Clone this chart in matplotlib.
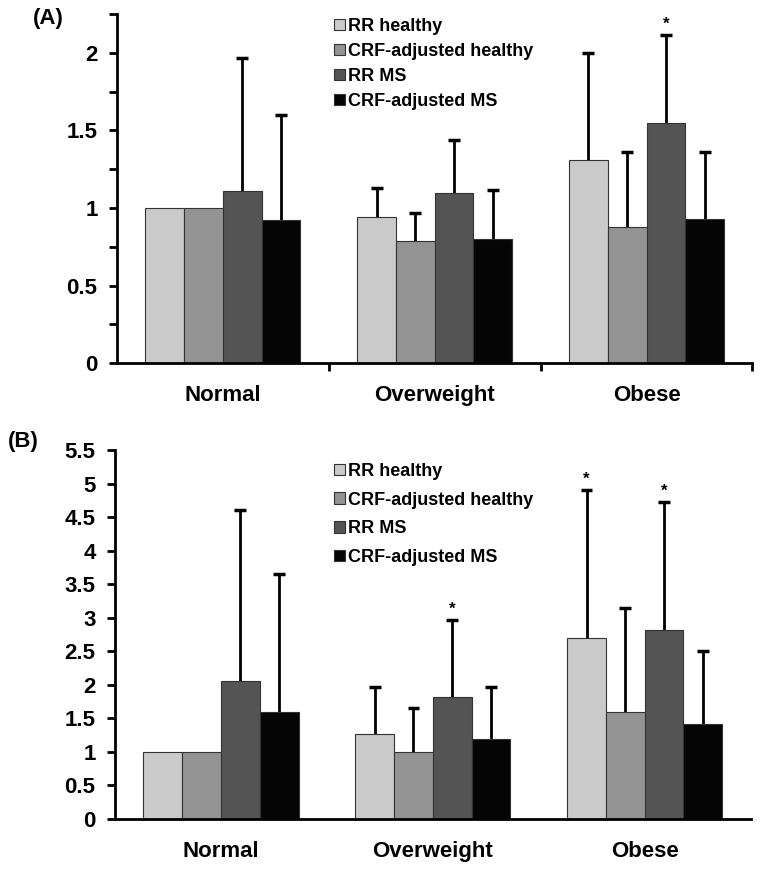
import numpy as np
import matplotlib.pyplot as plt
from matplotlib.patches import Patch
from matplotlib.ticker import MultipleLocator, FuncFormatter

plt.rcParams['font.family'] = 'Liberation Sans'
plt.rcParams['font.weight'] = 'bold'

categories = ['Normal', 'Overweight', 'Obese']
series = ['RR healthy', 'CRF-adjusted healthy', 'RR MS', 'CRF-adjusted MS']
colors = ['#cacaca', '#939393', '#545454', '#050505']

# panel A: bar heights and upper error bar tops
a_vals = [[1.00, 0.94, 1.31],
          [1.00, 0.79, 0.88],
          [1.11, 1.095, 1.55],
          [0.92, 0.80, 0.93]]
a_err_top = [[None, 1.13, 2.00],
             [None, 0.97, 1.36],
             [1.965, 1.44, 2.115],
             [1.60, 1.115, 1.36]]
a_stars = [(2, 2)]  # (series, category)

# panel B
b_vals = [[1.00, 1.27, 2.70],
          [1.00, 1.00, 1.59],
          [2.06, 1.81, 2.82],
          [1.60, 1.19, 1.42]]
b_err_top = [[None, 1.96, 4.90],
             [None, 1.65, 3.15],
             [4.60, 2.97, 4.73],
             [3.65, 1.97, 2.50]]
b_stars = [(2, 1), (0, 2), (2, 2)]

fig = plt.figure(figsize=(7.62, 8.73), dpi=100)
axA = fig.add_axes([0.1535, 0.584, 0.834, 0.400])
axB = fig.add_axes([0.151, 0.062, 0.834, 0.4225])

bw = 0.183
cap = 0.028
x = np.arange(3) + 0.5


def draw(ax, vals, err_top, stars, ymax, star_off):
    for i in range(4):
        xs = x + (i - 1.5) * bw
        ax.bar(xs, vals[i], width=bw, color=colors[i], edgecolor='#333333',
               linewidth=0.8, zorder=2)
        for j in range(3):
            t = err_top[i][j]
            if t is None:
                continue
            # upper half only error bar
            ax.vlines(xs[j], vals[i][j], t, color='black', lw=2, zorder=1)
            ax.hlines(t, xs[j] - cap, xs[j] + cap, color='black', lw=2.5, zorder=1)
    for i, j in stars:
        xs = x[j] + (i - 1.5) * bw
        ax.text(xs, err_top[i][j] + star_off, '*', ha='center', va='bottom',
                fontsize=12)
    ax.set_xlim(0, 3)
    ax.set_ylim(0, ymax)
    for s in ['top', 'right']:
        ax.spines[s].set_visible(False)
    for s in ['left', 'bottom']:
        ax.spines[s].set_linewidth(2)
    ax.set_xticks(x)
    ax.set_xticklabels(categories, fontsize=16, fontweight='bold')
    ax.tick_params(axis='x', length=0, pad=16)
    ax.tick_params(axis='y', labelsize=16, width=2, length=6, pad=8)
    ax.yaxis.set_major_locator(MultipleLocator(0.5))
    ax.yaxis.set_major_formatter(FuncFormatter(lambda v, p: f'{v:g}'))
    handles = [Patch(facecolor=c, edgecolor='#333333', linewidth=0.8) for c in colors]
    return handles


h = draw(axA, a_vals, a_err_top, a_stars, 2.25, 0.02)
axA.yaxis.set_minor_locator(MultipleLocator(0.25))
axA.tick_params(axis='y', which='minor', width=2, length=6)
axA.set_xticks([1, 2, 3], minor=True)
axA.tick_params(axis='x', which='minor', length=6, width=2, direction='out')
axA.legend(h, series, loc='upper left', bbox_to_anchor=(0.33, 1.01),
           frameon=False, fontsize=13, handlelength=0.6, handleheight=0.6,
           handletextpad=0.2, labelspacing=0.45, borderaxespad=0)

h = draw(axB, b_vals, b_err_top, b_stars, 5.5, 0.05)
axB.legend(h, series, loc='upper left', bbox_to_anchor=(0.333, 0.985),
           frameon=False, fontsize=13, handlelength=0.6, handleheight=0.6,
           handletextpad=0.2, labelspacing=0.65, borderaxespad=0)

fig.text(0.043, 0.979, '(A)', fontsize=16, fontweight='bold', va='center')
fig.text(0.010, 0.494, '(B)', fontsize=16, fontweight='bold', va='center')

plt.savefig('out.png', dpi=100)
